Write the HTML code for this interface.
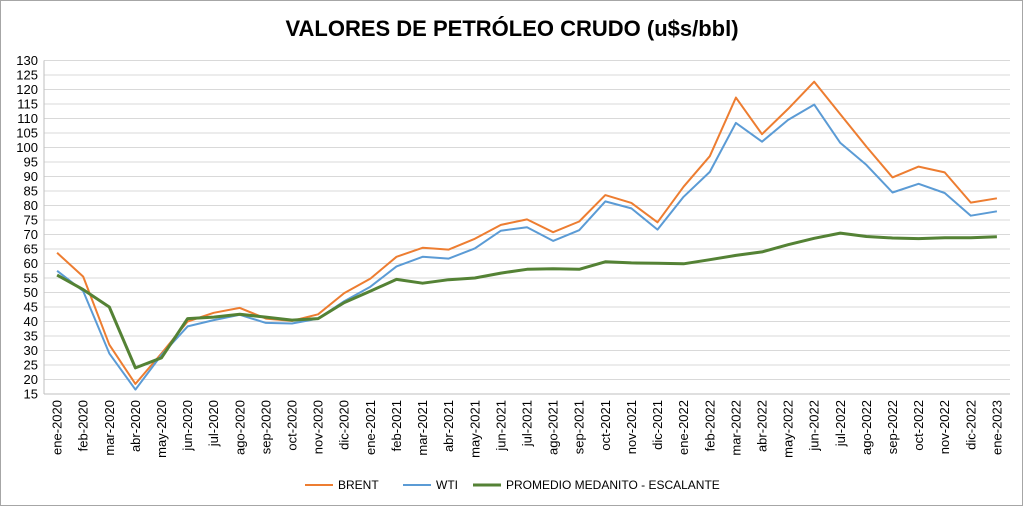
<!DOCTYPE html>
<html><head><meta charset="utf-8"><style>
html,body{margin:0;padding:0;background:#fff;}
svg{display:block;font-family:"Liberation Sans",Calibri,sans-serif;}
</style></head><body>
<svg id="c" width="1024" height="507" xmlns="http://www.w3.org/2000/svg">
<rect x="0.5" y="0.5" width="1022" height="505" fill="#fff" stroke="#a6a6a6"/>
<text x="512" y="36" text-anchor="middle" font-size="22" font-weight="bold" fill="#000">VALORES DE PETRÓLEO CRUDO (u$s/bbl)</text>
<g id="g"></g>
<g font-size="12" fill="#000">
<line x1="305" y1="485" x2="333" y2="485" stroke="#ed7d31" stroke-width="2"/>
<text x="338" y="489">BRENT</text>
<line x1="403" y1="485" x2="431" y2="485" stroke="#5b9bd5" stroke-width="2"/>
<text x="436" y="489">WTI</text>
<line x1="473" y1="485" x2="501" y2="485" stroke="#548235" stroke-width="3"/>
<text x="506" y="489">PROMEDIO MEDANITO - ESCALANTE</text>
</g>
</svg>
<script>
var ns="http://www.w3.org/2000/svg",g=document.getElementById("g");
function el(t,a,txt){var e=document.createElementNS(ns,t);for(var k in a)e.setAttribute(k,a[k]);if(txt)e.textContent=txt;g.appendChild(e);return e;}
var L=44,R=1010,n=37,bw=(R-L)/n;
function Y(v){return 394-(v-15)*2.9;}
for(var v=15;v<=130;v+=5){var y=Y(v);el("line",{x1:L,x2:R,y1:y,y2:y,stroke:v==15?"#bfbfbf":"#d9d9d9","stroke-width":1});
el("text",{x:38,y:y+4.5,"text-anchor":"end","font-size":13,fill:"#000"},String(v));}
el("line",{x1:L,x2:L,y1:Y(130),y2:394,stroke:"#bfbfbf"});
var m=["ene","feb","mar","abr","may","jun","jul","ago","sep","oct","nov","dic"];
for(var i=0;i<n;i++){var x=L+bw*(i+0.5);var lab=m[i%12]+"-"+(2020+Math.floor(i/12));
el("text",{x:0,y:0,transform:"translate("+(x+4.5)+",400) rotate(-90)","text-anchor":"end","font-size":13,fill:"#000"},lab);}
var B=[63.7,55.5,32,18.5,29,40,43,44.7,41,40.2,42.5,49.8,54.8,62.3,65.4,64.8,68.5,73.3,75.2,70.8,74.5,83.6,80.9,74.2,86.5,97,117.2,104.6,113.3,122.7,111.5,100.3,89.7,93.4,91.4,81,82.5];
var W=[57.5,50.5,29,16.5,28.5,38.3,40.5,42.3,39.5,39.3,41,47,52,59,62.3,61.7,65.2,71.3,72.5,67.8,71.5,81.4,79,71.7,83,91.6,108.5,102,109.5,114.8,101.6,94,84.5,87.5,84.3,76.5,78];
var P=[56,51,45,24,27.5,41,41.5,42.5,41.5,40.5,41,46.5,50.5,54.5,53.2,54.4,55,56.7,58,58.2,58,60.6,60.2,60.1,59.9,61.3,62.8,64,66.5,68.7,70.5,69.3,68.8,68.6,68.9,68.9,69.2];
function line(d,c,w){var p=d.map(function(v,i){return (L+bw*(i+0.5)).toFixed(1)+","+Y(v).toFixed(1)}).join(" ");
el("polyline",{points:p,fill:"none",stroke:c,"stroke-width":w,"stroke-linejoin":"round"});}
line(B,"#ed7d31",2);line(W,"#5b9bd5",2);line(P,"#548235",3);
</script>
</body></html>
